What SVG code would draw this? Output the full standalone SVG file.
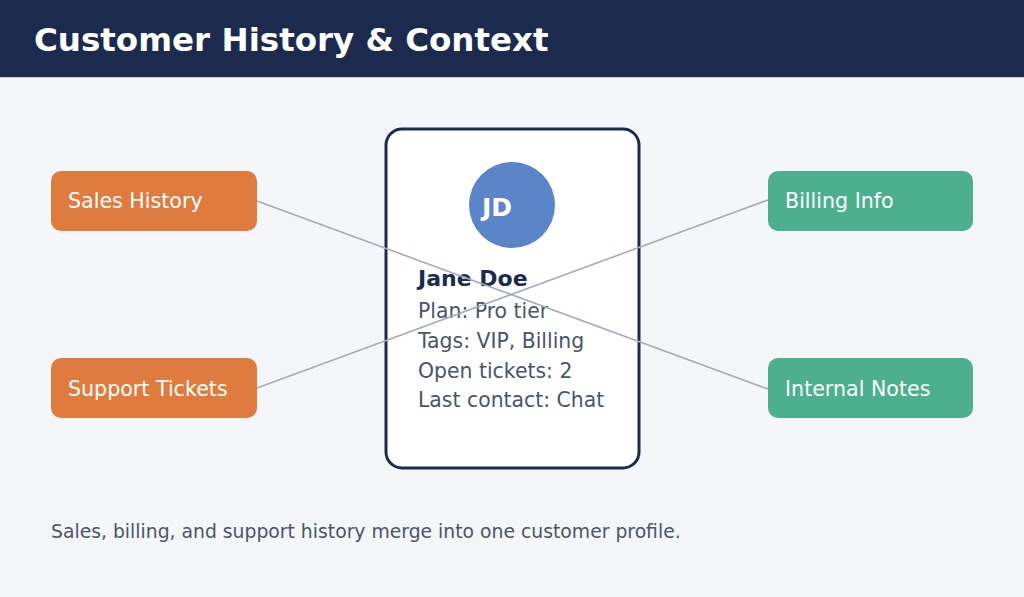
<svg xmlns="http://www.w3.org/2000/svg" width="1024" height="597" viewBox="0 0 1024 597">
<style>
text{font-family:"DejaVu Sans","Liberation Sans",sans-serif}
.node text{fill:#ffffff;font-size:20.6px}
.orange{fill:#e07b3f}
.green{fill:#4caf8e}
.conn line{stroke:#a3abbb;stroke-width:1.6}
.detail{fill:#4a5568;font-size:20.4px}
</style>
<rect x="0" y="0" width="1024" height="597" fill="#f5f6fa"/>
<rect x="0" y="0" width="1024" height="77" fill="#1c2b4d"/>
<line x1="0" y1="77.5" x2="1024" y2="77.5" stroke="#c5cad6" stroke-width="1"/>
<text x="34" y="51" fill="#ffffff" font-size="32.5" font-weight="bold">Customer History &amp; Context</text>
<g id="sales" class="node"><rect class="orange" x="51" y="171" width="206" height="60" rx="10"/><text x="68" y="208">Sales History</text></g>
<g id="support" class="node"><rect class="orange" x="51" y="358" width="206" height="60" rx="10"/><text x="68" y="396">Support Tickets</text></g>
<g id="billing" class="node"><rect class="green" x="768" y="171" width="205" height="60" rx="10"/><text x="785" y="208">Billing Info</text></g>
<g id="notes" class="node"><rect class="green" x="768" y="358" width="205" height="60" rx="10"/><text x="785" y="396">Internal Notes</text></g>
<g id="profile">
<rect x="386" y="129" width="253" height="339" rx="16" fill="#ffffff" stroke="#1c2b4d" stroke-width="3"/>
<circle cx="512" cy="205" r="43" fill="#5b84c9"/>
<text x="482" y="216" fill="#ffffff" font-size="25" font-weight="bold">JD</text>
<text x="418" y="286" fill="#1c2b4d" font-size="22" font-weight="bold">Jane Doe</text>
<text class="detail" x="418" y="318">Plan: Pro tier</text>
<text class="detail" x="418" y="348">Tags: VIP, Billing</text>
<text class="detail" x="418" y="378">Open tickets: 2</text>
<text class="detail" x="418" y="407">Last contact: Chat</text>
</g>
<g id="connectors" class="conn">
<line x1="257" y1="201" x2="768" y2="389"/>
<line x1="257" y1="388" x2="768" y2="200"/>
</g>
<text x="51" y="538" fill="#4a5568" font-size="18.8">Sales, billing, and support history merge into one customer profile.</text>
</svg>
